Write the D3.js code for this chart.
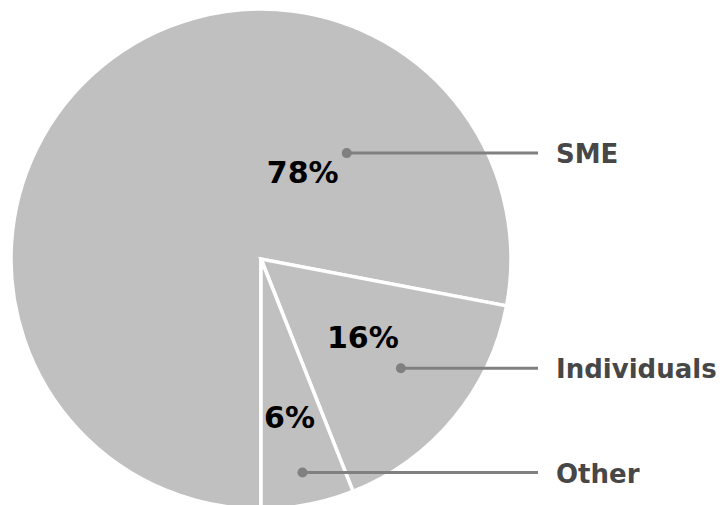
<!DOCTYPE html>
<html>
<head>
<meta charset="utf-8">
<script src="https://cdn.jsdelivr.net/npm/d3@7"></script>
<style>
  body { margin: 0; background: #fff; }
  svg { display: block; }
  .pct { font-family: "DejaVu Sans", Verdana, sans-serif; font-weight: bold; fill: #000; }
  .cat { font-family: "DejaVu Sans", Verdana, sans-serif; font-weight: bold; fill: #474747; }
</style>
</head>
<body>
<svg class="pie"></svg>
<script>
var categories = ["SME", "Individuals", "Other"];
var shares = [78, 16, 6];
var pctLabels = ["78%", "16%", "6%"];

var width = 725, height = 505;
var cx = 261, cy = 259, radius = 250;

// where the dot sits inside each slice (angle in degrees clockwise from 12 o'clock, fraction of radius)
var dotPlace = [{a: 39, r: 0.545}, {a: 128, r: 0.71}, {a: 169, r: 0.87}];
// percentage text offset from its dot
var pctOffset = [[-44, 30], [-38, -20], [-13, -45]];
var lineEnd = 538, labelX = 556;

var svg = d3.select("svg.pie")
    .attr("width", width)
    .attr("height", height);

var g = svg.append("g")
    .attr("transform", "translate(" + cx + "," + cy + ")");

var pie = d3.pie()
    .sort(null)
    .value(function(d) { return d; })
    .startAngle(Math.PI)
    .endAngle(3 * Math.PI);

var arc = d3.arc()
    .innerRadius(0)
    .outerRadius(radius);

var arcs = pie(shares);

g.selectAll("path.slice")
  .data(arcs)
  .enter().append("path")
    .attr("class", "slice")
    .attr("d", arc)
    .attr("fill", "#c0c0c0")
    .attr("stroke", "#fff")
    .attr("stroke-width", 3.5)
    .attr("stroke-linejoin", "miter");

function dotPos(i) {
  var a = dotPlace[i].a * Math.PI / 180, r = dotPlace[i].r * radius;
  return [r * Math.sin(a), -r * Math.cos(a)];
}

categories.forEach(function(c, i) {
  var p = dotPos(i);

  g.append("line")
    .attr("x1", p[0]).attr("y1", p[1])
    .attr("x2", lineEnd - cx).attr("y2", p[1])
    .attr("stroke", "#808080")
    .attr("stroke-width", 3);

  g.append("circle")
    .attr("cx", p[0]).attr("cy", p[1])
    .attr("r", 5)
    .attr("fill", "#808080");

  g.append("text")
    .attr("class", "pct")
    .attr("x", p[0] + pctOffset[i][0])
    .attr("y", p[1] + pctOffset[i][1])
    .attr("text-anchor", "middle")
    .style("font-size", "30px")
    .text(pctLabels[i]);

  g.append("text")
    .attr("class", "cat")
    .attr("x", labelX - cx)
    .attr("y", p[1] + 10)
    .style("font-size", "26px")
    .text(c);
});
</script>
</body>
</html>
